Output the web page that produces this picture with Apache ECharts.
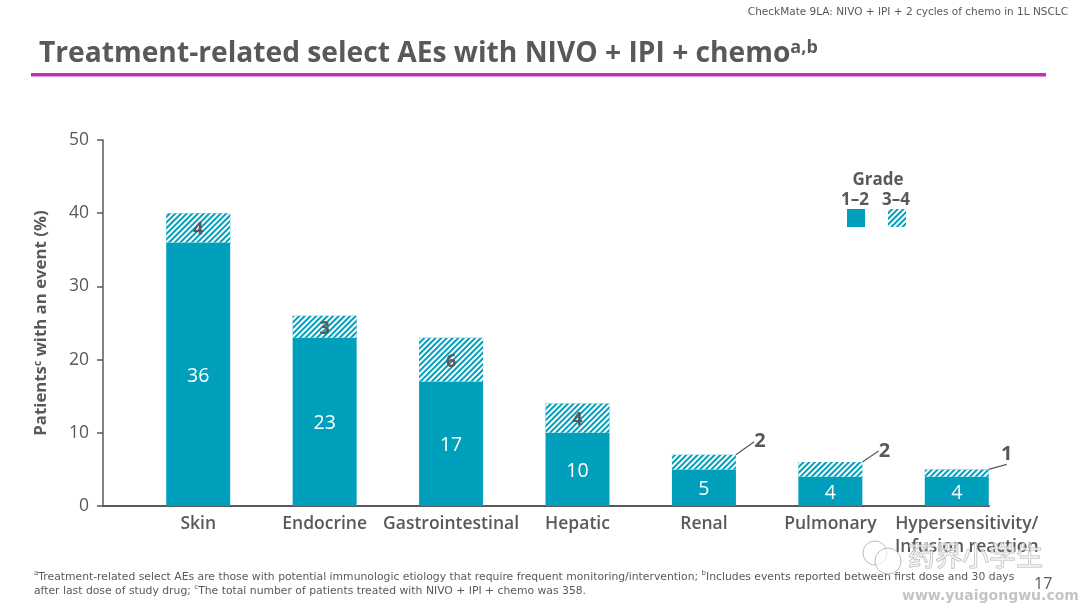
<!DOCTYPE html>
<html>
<head>
<meta charset="utf-8">
<style>html,body{margin:0;padding:0;background:#fff}#chart{width:1080px;height:608px}</style>
<script src="https://cdn.jsdelivr.net/npm/echarts@6/dist/echarts.min.js"></script>
</head>
<body>
<div id="chart"></div>
<script>
var categories = ['Skin','Endocrine','Gastrointestinal','Hepatic','Renal','Pulmonary','Hypersensitivity/\nInfusion reaction'];
var grade12 = [36,23,17,10,5,4,4];
var grade34 = [4,3,6,4,2,2,1];
var yTicks = {min:0,max:50,interval:10};
var seriesNames = ['1-2','3-4'];

var font = '"Open Sans"';
var smallFont = '"DejaVu Sans"';
var grey = '#58595b';
var teal = '#00a0bc';

// 最后三个柱子的数字在柱外,用引导线
function hatchData(){
    return grade34.map(function(v,i){
        if(i<4) return v;
        return {
            value:v,
            label:{position:'top',color:grey,fontSize:20,fontWeight:'bold'},
            labelLine:{show:true,lineStyle:{color:grey,width:1.2}}
        };
    });
}
var outsideShift = {4:[56,2],5:[54,4],6:[50,0]};

// 最后一个标签在原图里偏右
function categoryData(){
    return categories.map(function(c,i){
        if(i<6) return c;
        return {value:c,textStyle:{padding:[0,0,0,20]}};
    });
}

var chart = echarts.init(document.getElementById('chart'));
chart.setOption({
    animation:false,
    backgroundColor:'#fff',
    textStyle:{fontFamily:font},
    grid:[
        {left:135,width:885,top:140,height:366},
        {left:103,width:886,top:140,height:366}//只画横轴线
    ],
    legend:{
        left:842,top:204,itemWidth:18,itemHeight:18,itemGap:23,
        selectedMode:false,icon:'rect',
        formatter:function(){return '';},
        data:seriesNames
    },
    xAxis:[
        {
            type:'category',data:categoryData(),gridIndex:0,
            axisLine:{show:false},axisTick:{show:false},
            axisLabel:{color:grey,fontSize:17.5,margin:7,lineHeight:23,interval:0,fontFamily:font,fontWeight:600}
        },
        {
            type:'value',gridIndex:1,min:0,max:1,
            axisLine:{show:true,onZero:false,lineStyle:{color:grey,width:2}},
            axisTick:{show:false},axisLabel:{show:false},splitLine:{show:false}
        }
    ],
    yAxis:[
        {
            type:'value',gridIndex:0,min:yTicks.min,max:yTicks.max,interval:yTicks.interval,
            offset:32,
            name:'{n|Patients}{s|c}{n| with an event (%)}',
            nameLocation:'middle',nameGap:53,nameRotate:90,
            nameTextStyle:{rich:{
                n:{fontSize:16.8,fontWeight:'bold',color:grey,fontFamily:font},
                s:{fontSize:10,fontWeight:'bold',color:grey,fontFamily:font,verticalAlign:'top',padding:[0,0,6,0]}
            }},
            axisLine:{show:true,lineStyle:{color:grey,width:1.5}},
            axisTick:{show:true,length:6,lineStyle:{color:grey,width:1.5}},
            axisLabel:{color:grey,fontSize:17.5,margin:14,fontFamily:font},
            splitLine:{show:false}
        },
        {type:'value',gridIndex:1,show:false,min:0,max:1}
    ],
    series:[
        {
            name:seriesNames[0],type:'bar',stack:'ae',barWidth:64,data:grade12,
            itemStyle:{color:teal},
            label:{show:true,position:'inside',offset:[0,2],color:'#fff',fontSize:19.5,fontFamily:font}
        },
        {
            name:seriesNames[1],type:'bar',stack:'ae',barWidth:64,data:hatchData(),
            itemStyle:{
                color:teal,
                decal:{symbol:'rect',symbolSize:1,dashArrayX:[1,0],dashArrayY:[1.5,1.6],rotation:-Math.PI/4,color:'#fff'}
            },
            label:{show:true,position:'inside',color:grey,fontSize:18,fontWeight:'bold',fontFamily:font},
            labelLayout:function(params){
                var s = outsideShift[params.dataIndex];
                return s?{dx:s[0],dy:s[1]}:{dy:2};
            }
        }
    ],
    graphic:[
        {type:'rect',shape:{x:31,y:73,width:1015,height:3.5},style:{fill:'#bc2fb8'}},
        {type:'text',x:39,y:39,style:{
            text:'{t|Treatment-related select AEs with NIVO + IPI + chemo}{s|a,b}',
            rich:{
                t:{fontSize:28.2,fontWeight:'bold',fill:grey,fontFamily:font},
                s:{fontSize:18,fontWeight:'bold',fill:grey,fontFamily:font,verticalAlign:'top',padding:[0,0,12,0]}
            }
        }},
        {type:'text',right:12,top:7,style:{text:'CheckMate 9LA: NIVO + IPI + 2 cycles of chemo in 1L NSCLC',fontSize:10.5,fill:grey,fontFamily:smallFont}},
        {type:'text',x:878,y:172,style:{text:'Grade',fontSize:17,fontWeight:'bold',fill:grey,fontFamily:font,align:'center'}},
        {type:'text',x:855,y:192,style:{text:seriesNames[0].replace('-','–'),fontSize:17,fontWeight:'bold',fill:grey,fontFamily:font,align:'center'}},
        {type:'text',x:896,y:192,style:{text:seriesNames[1].replace('-','–'),fontSize:17,fontWeight:'bold',fill:grey,fontFamily:font,align:'center'}},
        {type:'text',x:34,y:570,style:{
            text:'{s|a}{f|Treatment-related select AEs are those with potential immunologic etiology that require frequent monitoring/intervention; }{s|b}{f|Includes events reported between first dose and 30 days}\n{f|after last dose of study drug; }{s|c}{f|The total number of patients treated with NIVO + IPI + chemo was 358.}',
            rich:{
                f:{fontSize:10.8,fill:grey,fontFamily:smallFont,lineHeight:14},
                s:{fontSize:7,fill:grey,fontFamily:smallFont,verticalAlign:'top',lineHeight:14}
            }
        }},
        {type:'text',x:1034,y:576,style:{text:'17',fontSize:16,fill:grey,fontFamily:font}},
        // 水印
        {type:'text',x:908,y:542,z:20,style:{text:'药界小学生',fontSize:27,fill:'rgba(255,255,255,0.55)',stroke:'#b5b5b5',lineWidth:1,fontFamily:'"Noto Sans CJK SC"'}},
        {type:'text',x:902,y:589,z:20,style:{text:'www.yuaigongwu.com',fontSize:14,fontWeight:'bold',fill:'#c4c4c4',fontFamily:smallFont}},
        {type:'circle',z:20,shape:{cx:875,cy:553,r:12},style:{fill:'rgba(255,255,255,0.6)',stroke:'#bdbdbd',lineWidth:1}},
        {type:'circle',z:20,shape:{cx:888,cy:561,r:13},style:{fill:'rgba(255,255,255,0.6)',stroke:'#bdbdbd',lineWidth:1}}
    ]
});
</script>
</body>
</html>
